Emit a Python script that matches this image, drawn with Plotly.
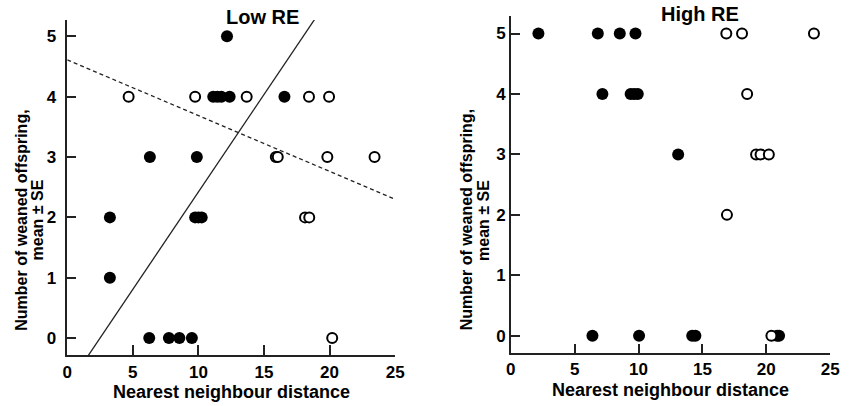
import plotly.graph_objects as go

# ---------------- data ----------------
# Low RE panel
low_filled_x = [12.18, 11.13, 11.45, 11.75, 12.38, 16.56, 6.3, 9.88, 3.25, 9.75, 10.0, 10.25, 3.25, 6.25, 7.75, 8.55, 9.5]
low_filled_y = [5, 4, 4, 4, 4, 4, 3, 3, 2, 2, 2, 2, 1, 0, 0, 0, 0]
low_open_x = [4.68, 9.75, 13.68, 18.43, 19.96, 15.9, 16.05, 19.83, 23.43, 18.13, 18.45, 20.2]
low_open_y = [4, 4, 4, 4, 4, 3, 3, 3, 3, 2, 2, 0]
# fitted lines (intercept, slope)
low_solid_fit = (-0.806, 0.3227)
low_dashed_fit = (4.61, -0.0924)

# High RE panel
high_filled_x = [2.16, 6.81, 8.53, 9.76, 7.17, 9.38, 9.66, 9.94, 13.1, 6.39, 10.04, 14.2, 14.45, 20.85, 21.0]
high_filled_y = [5, 5, 5, 5, 4, 4, 4, 4, 3, 0, 0, 0, 0, 0, 0]
high_open_x = [16.87, 18.1, 23.73, 18.5, 19.2, 19.55, 20.2, 16.92, 20.4]
high_open_y = [5, 5, 5, 4, 3, 3, 3, 2, 0]

x_ticks = [0, 5, 10, 15, 20, 25]
y_ticks = [0, 1, 2, 3, 4, 5]
titles = ["Low RE", "High RE"]
x_title = "Nearest neighbour distance"
y_title_lines = ["Number of weaned offspring,", "mean ± SE"]

# ---------------- figure ----------------
W, H = 849, 406
FONT = "Liberation Sans, Arial, sans-serif"

fig = go.Figure()

filled_marker = dict(size=12, color="black", line=dict(width=0))
open_marker = dict(size=10, color="white", line=dict(width=2, color="black"))

fig.add_trace(go.Scatter(x=low_filled_x, y=low_filled_y, mode="markers",
                         marker=filled_marker, xaxis="x", yaxis="y", showlegend=False))
fig.add_trace(go.Scatter(x=low_open_x, y=low_open_y, mode="markers",
                         marker=open_marker, xaxis="x", yaxis="y", showlegend=False))

line_x = [0, 25]
fig.add_trace(go.Scatter(x=line_x, y=[low_solid_fit[0] + low_solid_fit[1] * v for v in line_x],
                         mode="lines", line=dict(color="#222", width=1.3),
                         xaxis="x", yaxis="y", showlegend=False))
fig.add_trace(go.Scatter(x=line_x, y=[low_dashed_fit[0] + low_dashed_fit[1] * v for v in line_x],
                         mode="lines", line=dict(color="#222", width=1.3, dash="4px,3px"),
                         xaxis="x", yaxis="y", showlegend=False))

fig.add_trace(go.Scatter(x=high_filled_x, y=high_filled_y, mode="markers",
                         marker=filled_marker, xaxis="x2", yaxis="y2", showlegend=False))
fig.add_trace(go.Scatter(x=high_open_x, y=high_open_y, mode="markers",
                         marker=open_marker, xaxis="x2", yaxis="y2", showlegend=False))

def px_x(p):
    return p / W

def px_y(p):
    return 1 - p / H

axis_common = dict(showline=True, linecolor="#222", linewidth=1.5, showgrid=False,
                   zeroline=False, ticks="inside", tickcolor="#222", tickwidth=1.5,
                   tickfont=dict(family=FONT, size=17, color="black", weight="bold"),
                   fixedrange=True)

fig.update_layout(
    width=W, height=H,
    margin=dict(l=0, r=0, t=0, b=0),
    paper_bgcolor="white", plot_bgcolor="white",
    xaxis=dict(domain=[px_x(63.3), px_x(396.7)], range=[0, 25], tickvals=x_ticks,
               ticklen=10, anchor="y", ticklabelstandoff=1, **axis_common),
    yaxis=dict(domain=[px_y(355), px_y(20)], range=[-0.28, 5.27], tickvals=y_ticks,
               ticklen=9, anchor="x", ticklabelstandoff=6, **axis_common),
    xaxis2=dict(domain=[px_x(514.3), px_x(839)], range=[0, 25], tickvals=x_ticks,
                ticklen=10, anchor="y2", ticklabelstandoff=0, **axis_common),
    yaxis2=dict(domain=[px_y(353.3), px_y(16)], range=[-0.29, 5.29], tickvals=y_ticks,
                ticklen=9, anchor="x2", ticklabelstandoff=0, **axis_common),
)

ann = []
# panel titles
ann.append(dict(text="<b>%s</b>" % titles[0], x=px_x(262), y=px_y(17), xref="paper", yref="paper",
                showarrow=False, font=dict(family=FONT, size=20, color="black"),
                xanchor="center", yanchor="middle"))
ann.append(dict(text="<b>%s</b>" % titles[1], x=px_x(707), y=px_y(14), xref="paper", yref="paper",
                showarrow=False, font=dict(family=FONT, size=20, color="black"),
                xanchor="center", yanchor="middle"))
# x titles
for cx, cy in [(230, 392), (677, 390)]:
    ann.append(dict(text="<b>%s</b>" % x_title, x=px_x(cx), y=px_y(cy), xref="paper", yref="paper",
                    showarrow=False, font=dict(family=FONT, size=18, color="black"),
                    xanchor="center", yanchor="middle"))
# y titles (two lines each)
for (cx1, cx2, cy) in [(16, 33, 220), (469, 486, 220)]:
    for txt, cx in zip(y_title_lines, [cx1, cx2]):
        ann.append(dict(text="<b>%s</b>" % txt, x=px_x(cx), y=px_y(cy),
                        xref="paper", yref="paper", textangle=-90,
                        showarrow=False, font=dict(family=FONT, size=16, color="black"),
                        xanchor="center", yanchor="middle"))
fig.update_layout(annotations=ann)

fig.write_html("out.html")
